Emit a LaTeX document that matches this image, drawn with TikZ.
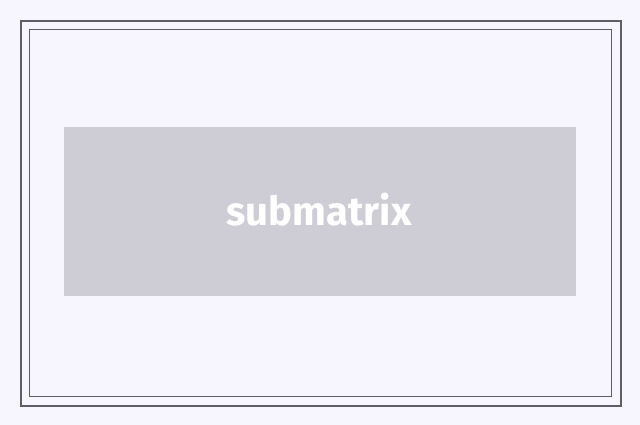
\documentclass[tikz,border=0pt]{standalone}
\usepackage{fontspec}
\setmainfont{Fira Sans}
\usepackage{tikz}
\usetikzlibrary{positioning}
\definecolor{pagebg}{HTML}{F7F6FE}
\definecolor{framegray}{HTML}{5F5E66}
\definecolor{bannergray}{HTML}{CECDD6}

\begin{document}
\begin{tikzpicture}[x=1pt,y=-1pt,
	frame/.style={draw=framegray},
	banner/.style={fill=bannergray,inner sep=0pt,minimum width=512pt,minimum height=169pt},
	bannertext/.style={text=white,font=\bfseries\fontsize{40}{44}\selectfont,anchor=base}]
			\fill[pagebg] (0,0) rectangle (640,425);
			\useasboundingbox (0,0) rectangle (640,425);
			\draw[frame,line width=2pt] (21,21) rectangle (620.5,405.5);
			\draw[frame,line width=1pt] (29.5,29.5) rectangle (611.5,396.5);
			\node[banner] (sub) at (320,211.5) {};
			\node[bannertext] (lbl) at (319,225) {submatrix};
		\end{tikzpicture}
\end{document}
